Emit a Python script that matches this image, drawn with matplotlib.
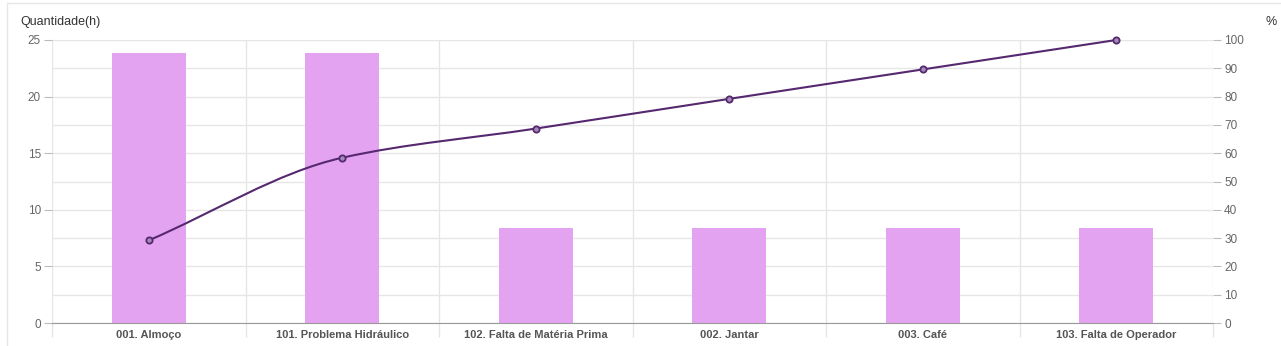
import numpy as np
import matplotlib.pyplot as plt
from matplotlib.path import Path
from matplotlib.patches import PathPatch, Rectangle

# data
categories = ["001. Almoço", "101. Problema Hidráulico", "102. Falta de Matéria Prima",
              "002. Jantar", "003. Café", "103. Falta de Operador"]
hours = [23.85, 23.85, 8.4, 8.4, 8.4, 8.4]
cum_pct = [29.2, 58.4, 68.7, 79.2, 89.6, 100.0]

BAR = "#E4A3F0"
LINE = "#55286F"
GRID = "#E6E6E6"
TXT = "#666666"

plt.rcParams["font.family"] = ["Liberation Sans", "DejaVu Sans"]

fig = plt.figure(figsize=(12.81, 3.46), dpi=100)
W, H = 1281, 346
ax = fig.add_axes([52 / W, 1 - 323 / H, (1213 - 52) / W, (323 - 40) / H])
ax2 = ax.twinx()

# frame of the card
fig.patches.append(Rectangle((7 / W, -0.1), 1.2, 1 - 3 / H + 0.1, transform=fig.transFigure,
                             fill=False, ec="#E6E6E6", lw=1.0))

x = np.arange(len(categories))
ax.bar(x, hours, width=0.38, color=BAR, zorder=2)
ax.set_xlim(-0.5, len(categories) - 0.5)
ax.set_ylim(0, 25)
ax.set_yticks(np.arange(0, 26, 5))
ax.set_yticks(np.arange(0, 26, 2.5), minor=True)
ax.grid(axis="y", which="both", color=GRID, lw=1.0, zorder=0)
ax.set_axisbelow(True)
ax.set_xticks(x)
ax.set_xticklabels(categories, fontsize=8, color="#555555", fontweight="bold")
ax.tick_params(axis="x", length=0, pad=5)
ax.set_xticks(np.arange(-0.5, len(categories), 1), minor=True)
ax.tick_params(axis="x", which="minor", length=10, color=GRID, width=1)
for b in np.arange(-0.5, len(categories), 1):
    ax.axvline(b, color=GRID, lw=1.0, zorder=0)
ax.tick_params(axis="y", which="major", labelsize=8.5, labelcolor=TXT, color="#BBBBBB",
               length=6, pad=2)
ax.tick_params(axis="y", which="minor", length=0)
for s in ["top", "left", "right"]:
    ax.spines[s].set_visible(False)
ax.spines["bottom"].set_color("#999999")
ax.spines["bottom"].set_zorder(5)

# cumulative % line (monotone cubic drawn as bezier path)
ax2.set_ylim(0, 100)
ax2.set_yticks(np.arange(0, 101, 10))
ax2.tick_params(axis="y", labelsize=8.5, labelcolor=TXT, color="#BBBBBB", length=6, pad=2)
for s in ["top", "left", "right", "bottom"]:
    ax2.spines[s].set_visible(False)

xs = x.astype(float)
ys = np.array(cum_pct, dtype=float)
d = np.diff(ys) / np.diff(xs)
m = np.zeros_like(ys)
m[0], m[-1] = d[0], d[-1]
for i in range(1, len(ys) - 1):
    m[i] = 0 if d[i - 1] * d[i] <= 0 else 2 / (1 / d[i - 1] + 1 / d[i])
verts = [(xs[0], ys[0])]
codes = [Path.MOVETO]
for i in range(len(ys) - 1):
    h = xs[i + 1] - xs[i]
    verts += [(xs[i] + h / 3, ys[i] + m[i] * h / 3),
              (xs[i + 1] - h / 3, ys[i + 1] - m[i + 1] * h / 3),
              (xs[i + 1], ys[i + 1])]
    codes += [Path.CURVE4] * 3
ax2.add_patch(PathPatch(Path(verts, codes), fill=False, ec=LINE, lw=1.5, zorder=3,
                        clip_on=False))
ax2.plot(xs, ys, ls="none", marker="o", ms=4.5, mfc="#A58AB8", mec=LINE, mew=1.3,
         zorder=4, clip_on=False)

fig.text(20 / W, 1 - 22 / H, "Quantidade(h)", fontsize=9, color="#333333", va="center")
fig.text(1266 / W, 1 - 22 / H, "%", fontsize=9, color="#333333", va="center")

fig.savefig("out.png", dpi=100)
